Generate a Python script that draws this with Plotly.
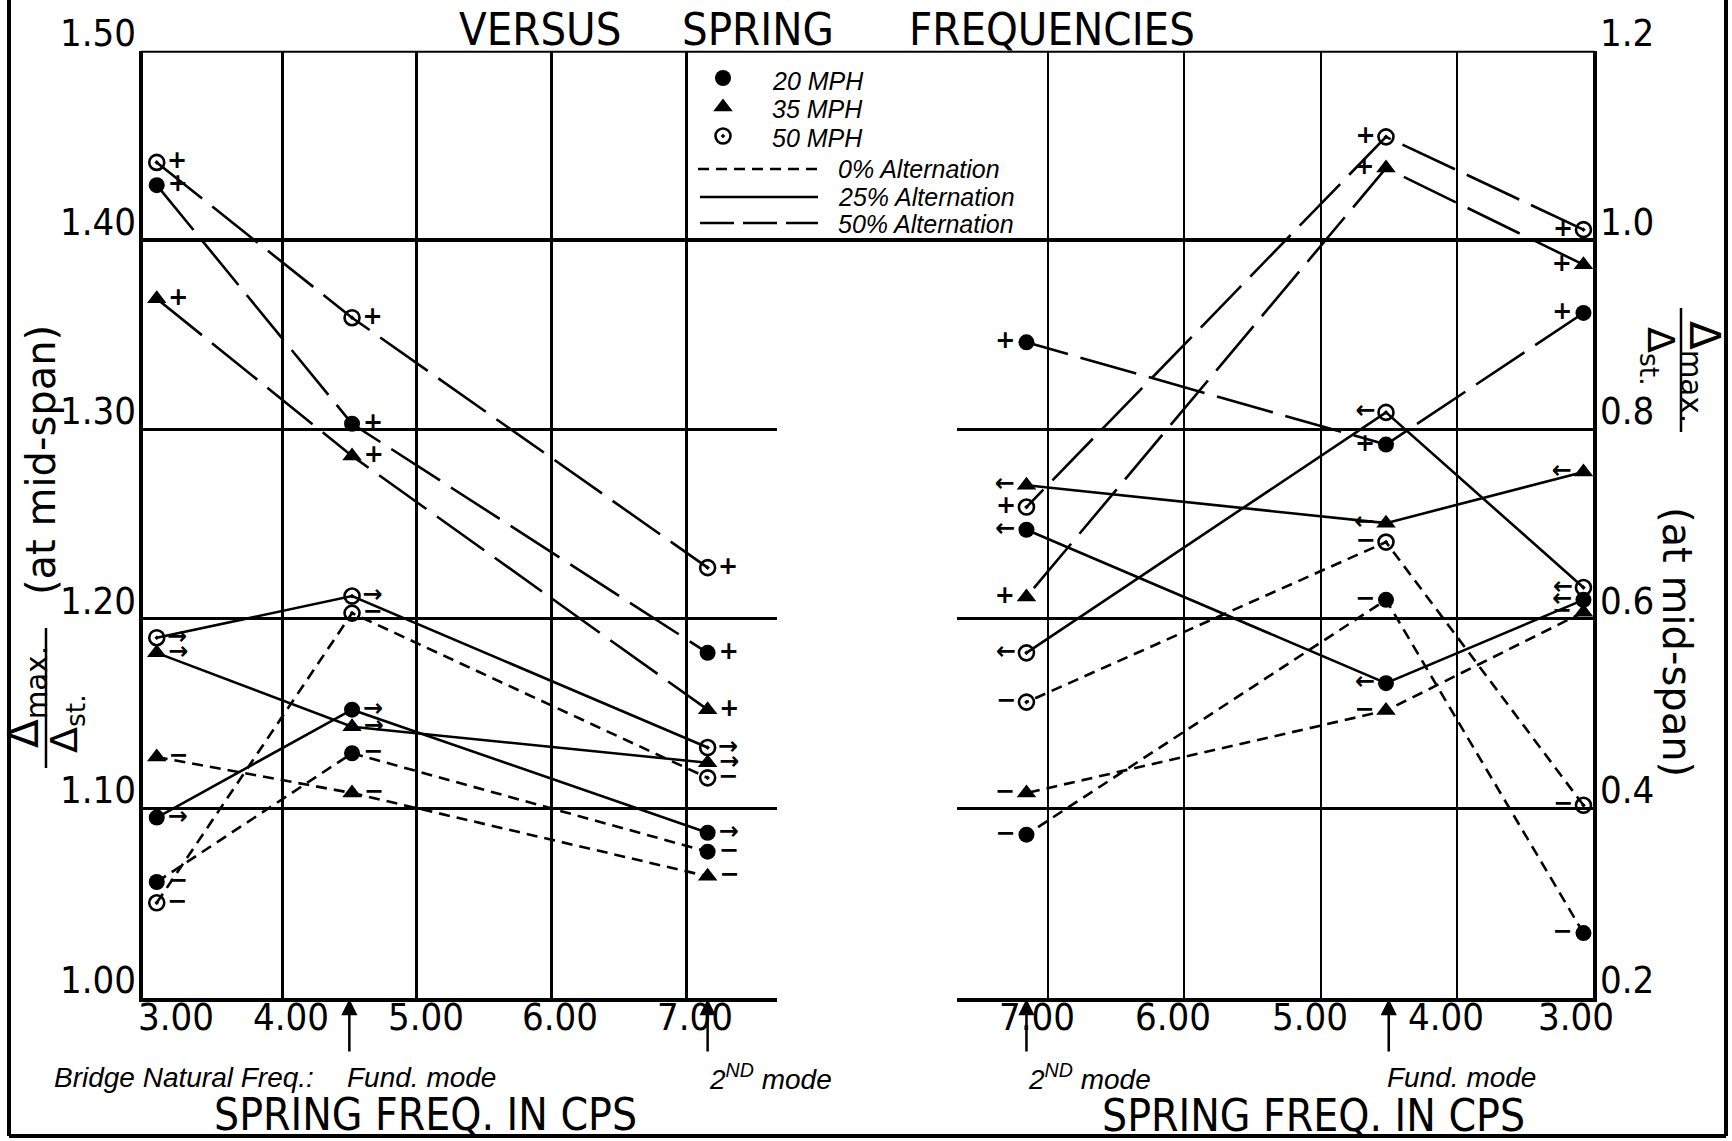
import plotly.graph_objects as go

# ---------------------------------------------------------------------------
# Data
# ---------------------------------------------------------------------------
# spring frequencies (cps) of the test vehicles
spring_freq = [3.07, 4.52, 7.16]
# bridge natural frequencies marked under the frequency axes
fund_mode_freq = 4.50
second_mode_freq = 7.16

speeds = ["20 MPH", "35 MPH", "50 MPH"]
alternations = ["0%", "25%", "50%"]

# left panel: dynamic / static deflection ratio (left scale)
left_20_0 = [1.061, 1.129, 1.077]
left_20_25 = [1.095, 1.152, 1.087]
left_20_50 = [1.429, 1.303, 1.182]
left_35_0 = [1.127, 1.108, 1.064]
left_35_25 = [1.182, 1.143, 1.124]
left_35_50 = [1.369, 1.286, 1.152]
left_50_0 = [1.050, 1.203, 1.116]
left_50_25 = [1.190, 1.212, 1.132]
left_50_50 = [1.441, 1.359, 1.227]

# right panel: deflection ratio (right scale)
right_20_0 = [0.268, 0.620, 0.372]
right_20_25 = [0.620, 0.532, 0.694]
right_20_50 = [0.923, 0.784, 0.892]
right_35_0 = [0.607, 0.503, 0.416]
right_35_25 = [0.755, 0.701, 0.741]
right_35_50 = [0.974, 1.076, 0.623]
right_50_0 = [0.403, 0.681, 0.512]
right_50_25 = [0.633, 0.818, 0.564]
right_50_50 = [1.011, 1.109, 0.718]

left_y_ticks = [1.00, 1.10, 1.20, 1.30, 1.40, 1.50]
left_y_labels = ["1.00", "1.10", "1.20", "1.30", "1.40", "1.50"]
right_y_ticks = [0.2, 0.4, 0.6, 0.8, 1.0, 1.2]
right_y_labels = ["0.2", "0.4", "0.6", "0.8", "1.0", "1.2"]
freq_ticks = [3, 4, 5, 6, 7]
freq_labels = ["3.00", "4.00", "5.00", "6.00", "7.00"]

# ---------------------------------------------------------------------------
# Styling
# ---------------------------------------------------------------------------
W, H = 1732, 1141
INK = "black"
NARROW = "Liberation Sans Narrow, DejaVu Sans Condensed, Liberation Sans, sans-serif"
PLAIN = "DejaVu Sans, Liberation Sans, sans-serif"
HAND = "Liberation Sans, DejaVu Sans, sans-serif"


def px(x):
    return x / W


def py(y):
    return 1 - y / H


MARKERS = {
    "20 MPH": dict(symbol="circle", size=16, color=INK),
    "35 MPH": dict(symbol="triangle-up", size=17, color=INK),
    "50 MPH": dict(symbol="circle-open-dot", size=15, color=INK,
                   line=dict(color=INK, width=2.6)),
}
DASHES = {"0%": "11px,7px", "25%": "solid", "50%": "58px,13px"}
GLYPH_LEFT = {"0%": "\u2212", "25%": "\u2192", "50%": "+"}
GLYPH_RIGHT = {"0%": "\u2212", "25%": "\u2190", "50%": "+"}

series = [
    ("20 MPH", "0%", left_20_0, right_20_0),
    ("20 MPH", "25%", left_20_25, right_20_25),
    ("20 MPH", "50%", left_20_50, right_20_50),
    ("35 MPH", "0%", left_35_0, right_35_0),
    ("35 MPH", "25%", left_35_25, right_35_25),
    ("35 MPH", "50%", left_35_50, right_35_50),
    ("50 MPH", "0%", left_50_0, right_50_0),
    ("50 MPH", "25%", left_50_25, right_50_25),
    ("50 MPH", "50%", left_50_50, right_50_50),
]

fig = go.Figure()

for speed, alt, y_left, y_right in series:
    common = dict(
        mode="lines+markers+text",
        line=dict(color=INK, width=2.6, dash=DASHES[alt]),
        marker=MARKERS[speed],
        textfont=dict(family=PLAIN, size=24, color=INK, weight="bold"),
        showlegend=False,
        hoverinfo="skip",
        cliponaxis=False,
    )
    fig.add_trace(go.Scatter(x=spring_freq, y=y_left, xaxis="x", yaxis="y",
                             text=[GLYPH_LEFT[alt]] * len(spring_freq),
                             textposition="middle right", **common))
    fig.add_trace(go.Scatter(x=spring_freq, y=y_right, xaxis="x2", yaxis="y2",
                             text=[GLYPH_RIGHT[alt]] * len(spring_freq),
                             textposition="middle left", **common))

# key symbols inside the boxed key (pixel-space overlay axes)
key_marker_y = [78, 107, 136]
for speed, ky in zip(speeds, key_marker_y):
    fig.add_trace(go.Scatter(x=[723], y=[ky], xaxis="x3", yaxis="y3", mode="markers",
                             marker=MARKERS[speed], showlegend=False, hoverinfo="skip"))

# ---------------------------------------------------------------------------
# Axes
# ---------------------------------------------------------------------------
y_dom = [py(997.5), py(50.7)]
fig.update_layout(
    width=W, height=H,
    margin=dict(l=0, r=0, t=0, b=0),
    paper_bgcolor="white",
    plot_bgcolor="rgba(0,0,0,0)",
    xaxis=dict(domain=[px(143), px(777)], range=[2.968, 7.675], anchor="y",
               showline=True, linewidth=4, linecolor=INK,
               showgrid=True, gridcolor=INK, gridwidth=2.5, tickvals=[4, 5, 6, 7],
               showticklabels=False, ticks="", zeroline=False, fixedrange=True),
    yaxis=dict(domain=y_dom, range=[1.0, 1.5], anchor="x",
               showline=True, linewidth=4, linecolor=INK,
               showgrid=True, gridcolor=INK, gridwidth=3, tickvals=[1.1, 1.2, 1.3],
               showticklabels=False, ticks="", zeroline=False, fixedrange=True),
    xaxis2=dict(domain=[px(957), px(1593)], range=[7.67, 3.0], anchor="y2",
                showline=True, linewidth=4, linecolor=INK,
                showgrid=True, gridcolor=INK, gridwidth=2, tickvals=[4, 5, 6, 7],
                showticklabels=False, ticks="", zeroline=False, fixedrange=True),
    yaxis2=dict(domain=y_dom, range=[0.2, 1.2], anchor="x2", side="right",
                showline=True, linewidth=4, linecolor=INK,
                showgrid=True, gridcolor=INK, gridwidth=3, tickvals=[0.4, 0.6, 0.8],
                showticklabels=False, ticks="", zeroline=False, fixedrange=True),
    xaxis3=dict(domain=[0, 1], range=[0, W], anchor="y3", visible=False, fixedrange=True),
    yaxis3=dict(domain=[0, 1], range=[H, 0], anchor="x3", visible=False, fixedrange=True),
)

# ---------------------------------------------------------------------------
# Frame lines
# ---------------------------------------------------------------------------
shapes = []


def seg(x0, y0, x1, y1, w=4, dash="solid"):
    shapes.append(dict(type="line", xref="paper", yref="paper",
                       x0=px(x0), y0=py(y0), x1=px(x1), y1=py(y1),
                       line=dict(color=INK, width=w, dash=dash), layer="above"))


# top edge and the 1.40 / 1.0 line run across both panels
shapes.append(dict(type="line", xref="paper", yref="y", x0=px(141), x1=px(1595),
                   y0=1.5, y1=1.5, line=dict(color=INK, width=4)))
shapes.append(dict(type="line", xref="paper", yref="y", x0=px(141), x1=px(1595),
                   y0=1.4, y1=1.4, line=dict(color=INK, width=4)))
# outer border of the sheet
seg(9, 0, 9, 1136)
seg(9, 1136, 1726, 1136)
seg(1726, 0, 1726, 1136)
# fraction bars of the axis titles
seg(46, 628, 46, 768, w=2.5)
seg(1681, 308, 1681, 432, w=2.5)
# key line samples
seg(698, 169, 818, 169, w=2.6, dash=DASHES["0%"])
seg(700, 197, 818, 197, w=2.6, dash=DASHES["25%"])
seg(700, 223, 818, 223, w=2.6, dash="34px,9px")

fig.update_layout(shapes=shapes)

# ---------------------------------------------------------------------------
# Text
# ---------------------------------------------------------------------------
ann = []


def text(x, y, s, size, family=NARROW, xanchor="center", yanchor="middle",
         angle=0, italic=False, **kw):
    ann.append(dict(x=px(x), y=py(y), xref="paper", yref="paper", text=s,
                    showarrow=False, xanchor=xanchor, yanchor=yanchor,
                    textangle=angle,
                    font=dict(family=family, size=size, color=INK,
                              style="italic" if italic else "normal"), **kw))


# y tick labels
for v, lab in zip(left_y_ticks, left_y_labels):
    ann.append(dict(x=px(138), xref="paper", y=v, yref="y", text=lab, showarrow=False,
                    xanchor="right", yanchor="bottom", yshift=-6,
                    font=dict(family=NARROW, size=38, color=INK)))
for v, lab in zip(right_y_ticks, right_y_labels):
    ann.append(dict(x=px(1598), xref="paper", y=v, yref="y2", text=lab, showarrow=False,
                    xanchor="left", yanchor="bottom", yshift=-6,
                    font=dict(family=NARROW, size=38, color=INK)))

# x tick labels (the 3.00 label sits clear of the vertical axis)
for v, lab in zip(freq_ticks, freq_labels):
    ann.append(dict(x=v, xref="x", y=py(1017), yref="paper", text=lab, showarrow=False,
                    xanchor="center", yanchor="middle", xshift=29 if v == 3 else 9,
                    font=dict(family=NARROW, size=38, color=INK)))
    ann.append(dict(x=v, xref="x2", y=py(1017), yref="paper", text=lab, showarrow=False,
                    xanchor="center", yanchor="middle", xshift=-17 if v == 3 else -11,
                    font=dict(family=NARROW, size=38, color=INK)))

# natural-frequency arrows
for f in (fund_mode_freq, second_mode_freq):
    for xr in ("x", "x2"):
        ann.append(dict(x=f, xref=xr, y=py(999), yref="paper", text="", showarrow=True,
                        ax=0, ay=54, arrowhead=2, arrowsize=1.3, arrowwidth=2.5,
                        arrowcolor=INK))

# title line
text(540, 1, "VERSUS", 45, yanchor="top")
text(758, 1, "SPRING", 45, yanchor="top")
text(1052, 1, "FREQUENCIES", 45, yanchor="top")

# bottom captions
text(52, 1077, "Bridge Natural Freq.:", 28, family=HAND, xanchor="left", italic=True)
text(345, 1077, "Fund. mode", 28, family=HAND, xanchor="left", italic=True)
text(707, 1077, "2<sup>ND</sup> mode", 28, family=HAND, xanchor="left", italic=True)
text(1026, 1077, "2<sup>ND</sup> mode", 28, family=HAND, xanchor="left", italic=True)
text(1385, 1077, "Fund. mode", 28, family=HAND, xanchor="left", italic=True)
text(425, 1114, "SPRING FREQ. IN CPS", 44)
text(1313, 1115, "SPRING FREQ. IN CPS", 44)

# left axis title (reads upward)
text(41, 460, "(at mid-span)", 40, family=PLAIN, angle=-90)
text(26, 697, "\u0394<sub>max.</sub>", 42, family=PLAIN, angle=-90)
text(66, 724, "\u0394<sub>st.</sub>", 38, family=PLAIN, angle=-90)
# right axis title (reads downward)
text(1702, 372, "\u0394<sub>max.</sub>", 42, family=PLAIN, angle=90)
text(1659, 356, "\u0394<sub>st.</sub>", 38, family=PLAIN, angle=90)
text(1677, 642, "(at mid-span)", 40, family=PLAIN, angle=90)

# key text
for lab, ky in zip(speeds, [81, 109, 138]):
    text(770, ky, lab, 25, family=HAND, xanchor="left", italic=True)
for lab, ky in zip(alternations, [169, 197, 224]):
    text(836, ky, lab + " Alternation", 25, family=HAND, xanchor="left", italic=True)

fig.update_layout(annotations=ann)

fig.write_html("out.html", include_plotlyjs=True,
               post_script="document.body.style.margin='0';")
